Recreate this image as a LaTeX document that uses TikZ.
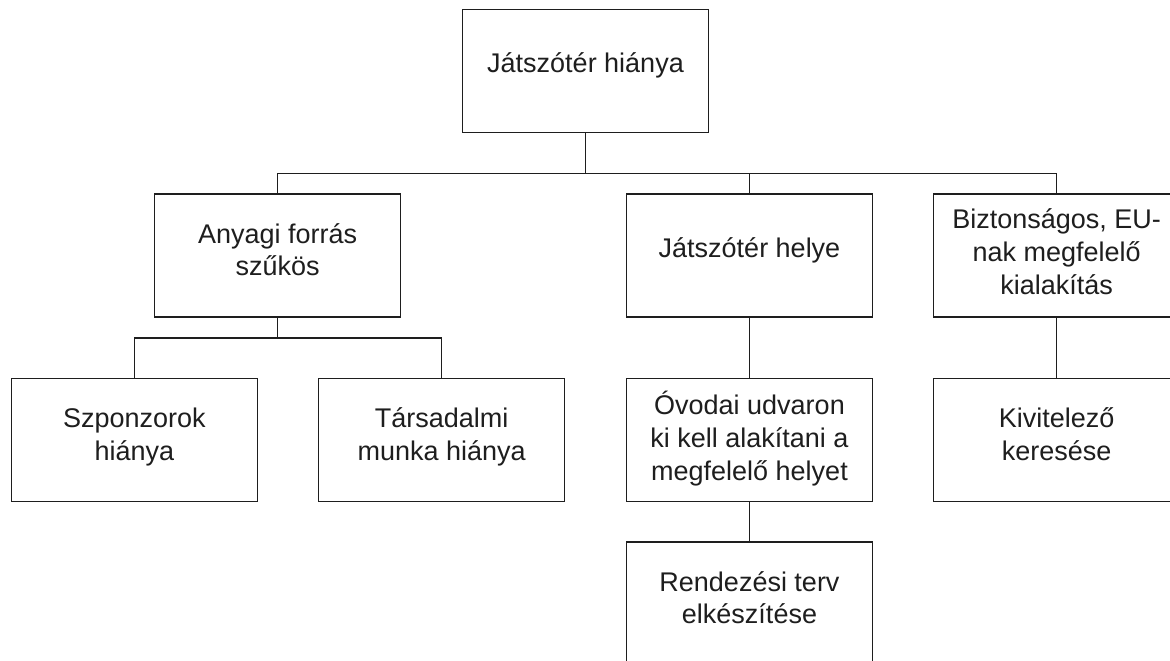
\documentclass[tikz,border=0pt]{standalone}
\usepackage{fontspec}
\setmainfont{Liberation Sans}
\definecolor{ink}{HTML}{1E1E1E}
\newcommand\lst{\rule[-12pt]{0pt}{29pt}}
\begin{document}
\begin{tikzpicture}[x=1pt,y=-1pt,
  box/.style={draw=ink, line width=1.5pt, minimum width=246pt, minimum height=123pt, inner sep=0pt},
  txt/.style={text=ink, align=center, font=\fontsize{27}{31}\selectfont, inner sep=0pt},
  link/.style={draw=ink, line width=1.5pt}]
\useasboundingbox (0,0) rectangle (1170,661);
\clip (0,0) rectangle (1170,661);
\fill[white] (0,0) rectangle (1170,661);
% boxes
\node[box] (top)    at (585.5,71)   {};
\node[box] (anyagi) at (277.7,255.5) {};
\node[box] (helye)  at (749.5,255.5) {};
\node[box] (bizt)   at (1056.7,255.5) {};
\node[box] (szponz) at (134.3,440) {};
\node[box] (tars)   at (441.7,440) {};
\node[box] (ovodai) at (749.5,440) {};
\node[box] (kivit)  at (1056.7,440) {};
\node[box] (rendez) at (749.5,603.5) {};
% texts
\node[txt] (top-t)    at ([yshift=2pt]top.center)    {\lst Játszótér hiánya};
\node[txt] (anyagi-t) at (anyagi.center) {\lst Anyagi forrás\\\lst szűkös};
\node[txt] (helye-t)  at ([yshift=2pt]helye.center)  {\lst Játszótér helye};
\node[txt] (bizt-t)   at ([yshift=-2pt]bizt.center)   {\lst Biztonságos, EU-\\\lst nak megfelelő\\\lst kialakítás};
\node[txt] (szponz-t) at (szponz.center) {\lst Szponzorok\\\lst hiánya};
\node[txt] (tars-t)   at (tars.center)   {\lst Társadalmi\\\lst munka hiánya};
\node[txt] (ovodai-t) at ([yshift=-2pt]ovodai.center) {\lst Óvodai udvaron\\\lst ki kell alakítani a\\\lst megfelelő helyet};
\node[txt] (kivit-t)  at (kivit.center)  {\lst Kivitelező\\\lst keresése};
\node[txt] (rendez-t) at (rendez.center) {\lst Rendezési terv\\\lst elkészítése};
% connector bars
\coordinate (bar1) at (0,173.3);
\coordinate (bar2) at (0,338);
\draw[link] (top.south) -- (top.south |- bar1);
\draw[link] (anyagi.north) -- (anyagi.north |- bar1) -- (bizt.north |- bar1) -- (bizt.north);
\draw[link] (helye.north) -- (helye.north |- bar1);
\draw[link] (anyagi.south) -- (anyagi.south |- bar2);
\draw[link] (szponz.north) -- (szponz.north |- bar2) -- (tars.north |- bar2) -- (tars.north);
\draw[link] (helye.south) -- (ovodai.north);
\draw[link] (bizt.south) -- (kivit.north);
\draw[link] (ovodai.south) -- (rendez.north);
\end{tikzpicture}
\end{document}
